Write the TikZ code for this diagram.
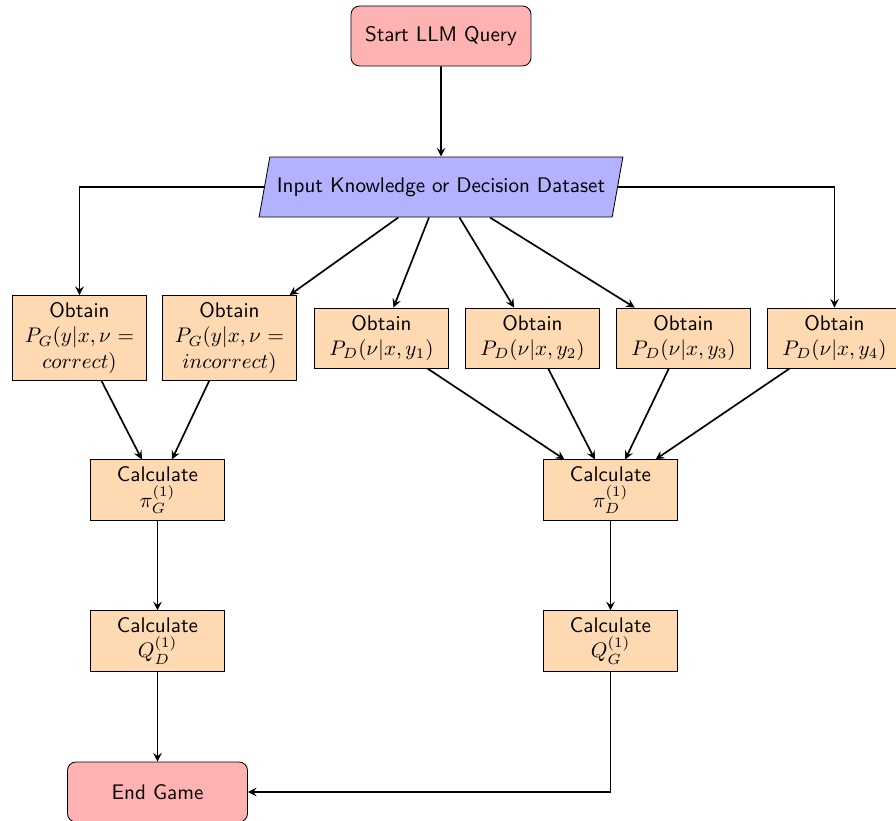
\documentclass[tikz,border=0pt]{standalone}
\usetikzlibrary{shapes.geometric,arrows}
\pgfdeclarelayer{edgelayer}
\pgfdeclarelayer{nodelayer}
\pgfsetlayers{edgelayer,nodelayer,main}
\tikzset{font=\sffamily}
\tikzstyle{startstop}=[rectangle,rounded corners,minimum width=3cm,minimum height=1cm,align=center,draw=black,fill=red!30]
\tikzstyle{io}=[trapezium,trapezium left angle=72,trapezium right angle=108,trapezium stretches=true,minimum width=3cm,minimum height=1cm,align=center,draw=black,fill=blue!30]
\tikzstyle{process}=[rectangle,text width=2cm,minimum height=1cm,align=center,draw=black,fill=orange!30]
\tikzstyle{arrow}=[thick,->,>=stealth]

\begin{document}
\begin{tikzpicture}
	\useasboundingbox (0, 0) rectangle (14.933, -13.683);
	\begin{pgfonlayer}{nodelayer}
		\node [style=startstop] (0) at (7.35, -0.6) {Start LLM Query};
		\node [style=io] (1) at (7.35, -3.117) {Input Knowledge or Decision Dataset};
		\node [style=process] (2) at (1.325, -5.633) {Obtain\\ $P_G(y|x,\nu = correct)$};
		\node [style=process] (3) at (3.825, -5.633) {Obtain\\ $P_G(y|x,\nu = incorrect)$};
		\node [style=process] (4) at (6.358, -5.633) {Obtain\\ $P_D(\nu|x,y_1)$};
		\node [style=process] (5) at (8.875, -5.633) {Obtain\\ $P_D(\nu|x,y_2)$};
		\node [style=process] (6) at (11.392, -5.633) {Obtain\\ $P_D(\nu|x,y_3)$};
		\node [style=process] (7) at (13.908, -5.633) {Obtain\\ $P_D(\nu|x,y_4)$};
		\node [style=process] (8) at (2.625, -8.167) {Calculate\\ $\pi_G^{(1)}$};
		\node [style=process] (9) at (10.175, -8.167) {Calculate\\ $\pi_D^{(1)}$};
		\node [style=process] (10) at (2.625, -10.683) {Calculate\\ $Q_D^{(1)}$};
		\node [style=process] (11) at (10.175, -10.683) {Calculate\\ $Q_G^{(1)}$};
		\node [style=startstop] (12) at (2.625, -13.2) {End Game};
	\end{pgfonlayer}
	\begin{pgfonlayer}{edgelayer}
		\draw [style=arrow] (0) to (1);
		\draw [style=arrow] (1) -| (2);
		\draw [style=arrow] (1) to (3);
		\draw [style=arrow] (1) to (4);
		\draw [style=arrow] (1) to (5);
		\draw [style=arrow] (1) to (6);
		\draw [style=arrow] (1) -| (7);
		\draw [style=arrow] (2) to (8);
		\draw [style=arrow] (3) to (8);
		\draw [style=arrow] (4) to (9);
		\draw [style=arrow] (5) to (9);
		\draw [style=arrow] (6) to (9);
		\draw [style=arrow] (7) to (9);
		\draw [style=arrow] (8) to (10);
		\draw [style=arrow] (9) to (11);
		\draw [style=arrow] (10) to (12);
		\draw [style=arrow] (11) |- (12);
	\end{pgfonlayer}
\end{tikzpicture}
\end{document}
